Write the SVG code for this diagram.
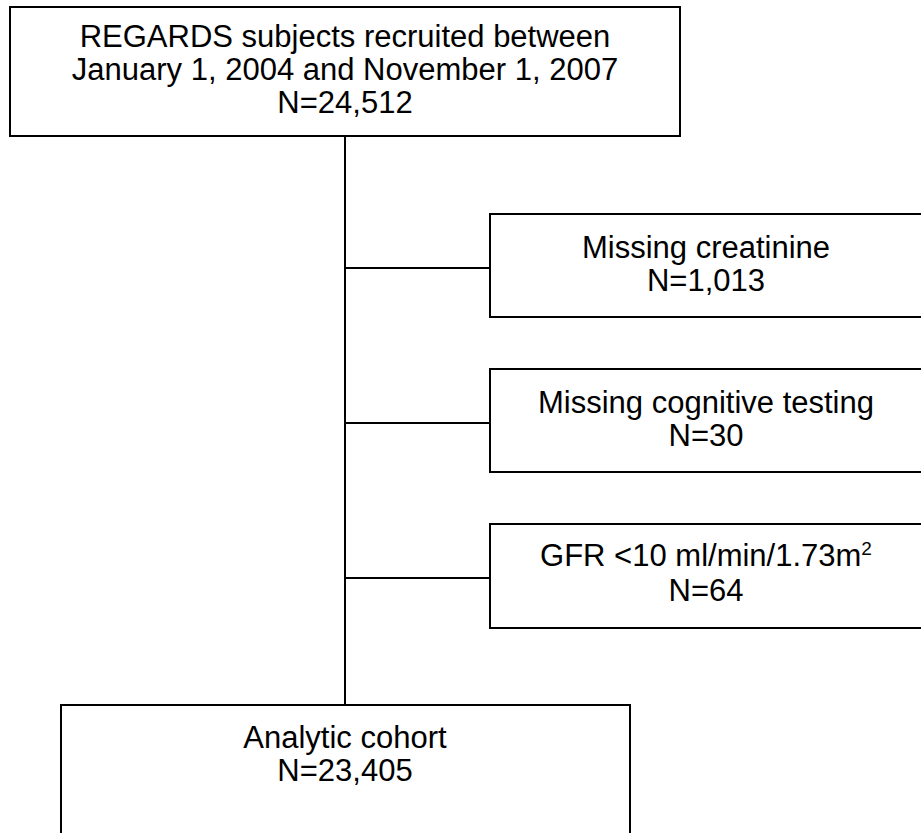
<svg xmlns="http://www.w3.org/2000/svg" width="921" height="833" viewBox="0 0 921 833">
<style>
.box{fill:#fff;stroke:#000;stroke-width:2}
.ln{stroke:#000;stroke-width:2;fill:none}
text{font-family:"Liberation Sans",Arial,sans-serif;font-size:31px;fill:#000;text-anchor:middle}
</style>
<rect width="921" height="833" fill="#fff"/>
<g id="connectors">
<line class="ln" x1="345" y1="136" x2="345" y2="706"/>
<line class="ln" x1="345" y1="268" x2="490" y2="268"/>
<line class="ln" x1="345" y1="423" x2="490" y2="423"/>
<line class="ln" x1="345" y1="578" x2="490" y2="578"/>
</g>
<g id="n_top">
<rect class="box" x="10" y="7" width="670" height="129"/>
<text x="345" y="47">REGARDS subjects recruited between</text>
<text x="345" y="80">January 1, 2004 and November 1, 2007</text>
<text x="345" y="113">N=24,512</text>
</g>
<g id="n_creat">
<rect class="box" x="490" y="214" width="440" height="103"/>
<text x="706" y="258">Missing creatinine</text>
<text x="706" y="291">N=1,013</text>
</g>
<g id="n_cog">
<rect class="box" x="490" y="369" width="440" height="103"/>
<text x="706" y="413">Missing cognitive testing</text>
<text x="706" y="446">N=30</text>
</g>
<g id="n_gfr">
<rect class="box" x="490" y="524" width="440" height="104"/>
<text x="706" y="566">GFR &lt;10 ml/min/1.73m<tspan font-size="19" dy="-11">2</tspan></text>
<text x="706" y="601">N=64</text>
</g>
<g id="n_cohort">
<rect class="box" x="61" y="705" width="569" height="160"/>
<text x="345" y="748">Analytic cohort</text>
<text x="345" y="781">N=23,405</text>
</g>
</svg>
